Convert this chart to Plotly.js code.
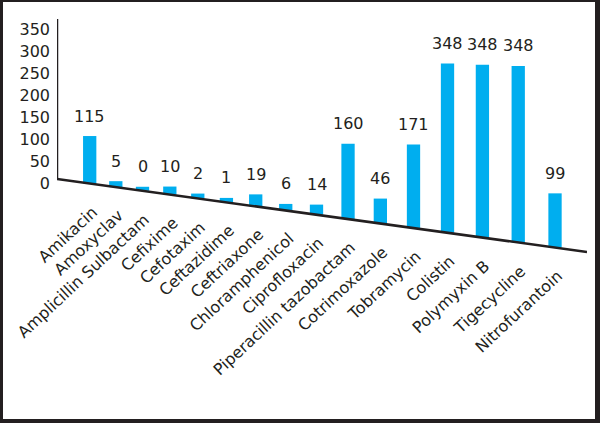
<!DOCTYPE html>
<html>
<head>
<meta charset="utf-8">
<script src="https://cdn.plot.ly/plotly-3.0.1.min.js"></script>
<style>
  html, body { margin: 0; padding: 0; background: #fff; }
  #wrap { position: relative; width: 600px; height: 423px; }
  #frame {
    position: absolute; left: 0; top: 0; right: 0; bottom: 0;
    border-style: solid; border-color: #231f20;
    border-width: 2px 5px 4px 3px;
    pointer-events: none;
  }
</style>
</head>
<body>
<div id="wrap">
  <div id="chart"></div>
  <div id="frame"></div>
</div>
<script>
// data
const drugs = [
  "Amikacin", "Amoxyclav", "Amplicillin Sulbactam", "Cefixime", "Cefotaxim",
  "Ceftazidime", "Ceftriaxone", "Chloramphenicol", "Ciprofloxacin",
  "Piperacillin tazobactam", "Cotrimoxazole", "Tobramycin", "Colistin",
  "Polymyxin B", "Tigecycline", "Nitrofurantoin"
];
const counts = [115, 5, 0, 10, 2, 1, 19, 6, 14, 160, 46, 171, 348, 348, 348, 99];
const yTicks = [0, 50, 100, 150, 200, 250, 300, 350];

const ink = "#231f20";
const barColor = "#00aeef";
const fontFam = "DejaVu Sans, Arial, sans-serif";

// fake 3D: the floor slants down to the right and depth grows with the index
const PXU = 0.4391;               // px per unit on the front (left) axis
function yAt(py) { return (183 - py) / PXU; }
function floorPx(x) { return 179 + (x - 57) * 0.1377; }
function slotX(i) { return 89.7 + 25.81 * i / (1 - 0.0112 * i); }
function unitPx(i) { return 0.378 / (1 - 0.017 * i); }
const TOP_FACE = 4;              // visible top of a 3D column, px

const xs = drugs.map((d, i) => slotX(i));
const bases = xs.map(x => yAt(floorPx(x)));
const heights = counts.map((v, i) => (TOP_FACE + v * unitPx(i)) / PXU);
const tops = bases.map((b, i) => b + heights[i]);

const trace = {
  type: "bar",
  x: xs,
  y: heights,
  base: bases,
  width: 13.3,
  marker: { color: barColor, line: { width: 0 } },
  hovertext: drugs.map((d, i) => d + ": " + counts[i]),
  hoverinfo: "text"
};

const annotations = [];
drugs.forEach((d, i) => {
  annotations.push({
    x: xs[i], y: tops[i], xref: "x", yref: "y",
    text: String(counts[i]), showarrow: false,
    yanchor: "middle", yshift: 20,
    font: { family: fontFam, size: 16, color: ink }
  });
  annotations.push({
    x: xs[i], y: bases[i], xref: "x", yref: "y",
    text: d, showarrow: false, textangle: -43,
    xanchor: "right", yanchor: "top", xshift: 14, yshift: -16,
    font: { family: fontFam, size: 16, color: ink }
  });
});

const layout = {
  width: 600,
  height: 423,
  margin: { l: 57, r: 13, t: 19, b: 3, pad: 0 },
  paper_bgcolor: "#ffffff",
  plot_bgcolor: "#ffffff",
  showlegend: false,
  xaxis: {
    range: [57, 587],
    visible: false,
    fixedrange: true
  },
  yaxis: {
    range: [yAt(420), yAt(19)],
    tickvals: yTicks,
    ticktext: yTicks.map(String),
    ticks: "",
    ticklabelstandoff: 6,
    showgrid: false,
    zeroline: false,
    showline: false,
    tickfont: { family: fontFam, size: 16, color: ink },
    fixedrange: true
  },
  shapes: [
    { type: "line", xref: "x", yref: "y", x0: 57, x1: 57, y0: yAt(180), y1: yAt(19),
      line: { color: ink, width: 2.5 } },
    { type: "line", xref: "x", yref: "y", x0: 57, x1: 587, y0: yAt(floorPx(57)), y1: yAt(floorPx(587)),
      line: { color: ink, width: 2.5 } }
  ],
  annotations: annotations
};

Plotly.newPlot("chart", [trace], layout, { displayModeBar: false, staticPlot: true });
</script>
</body>
</html>
